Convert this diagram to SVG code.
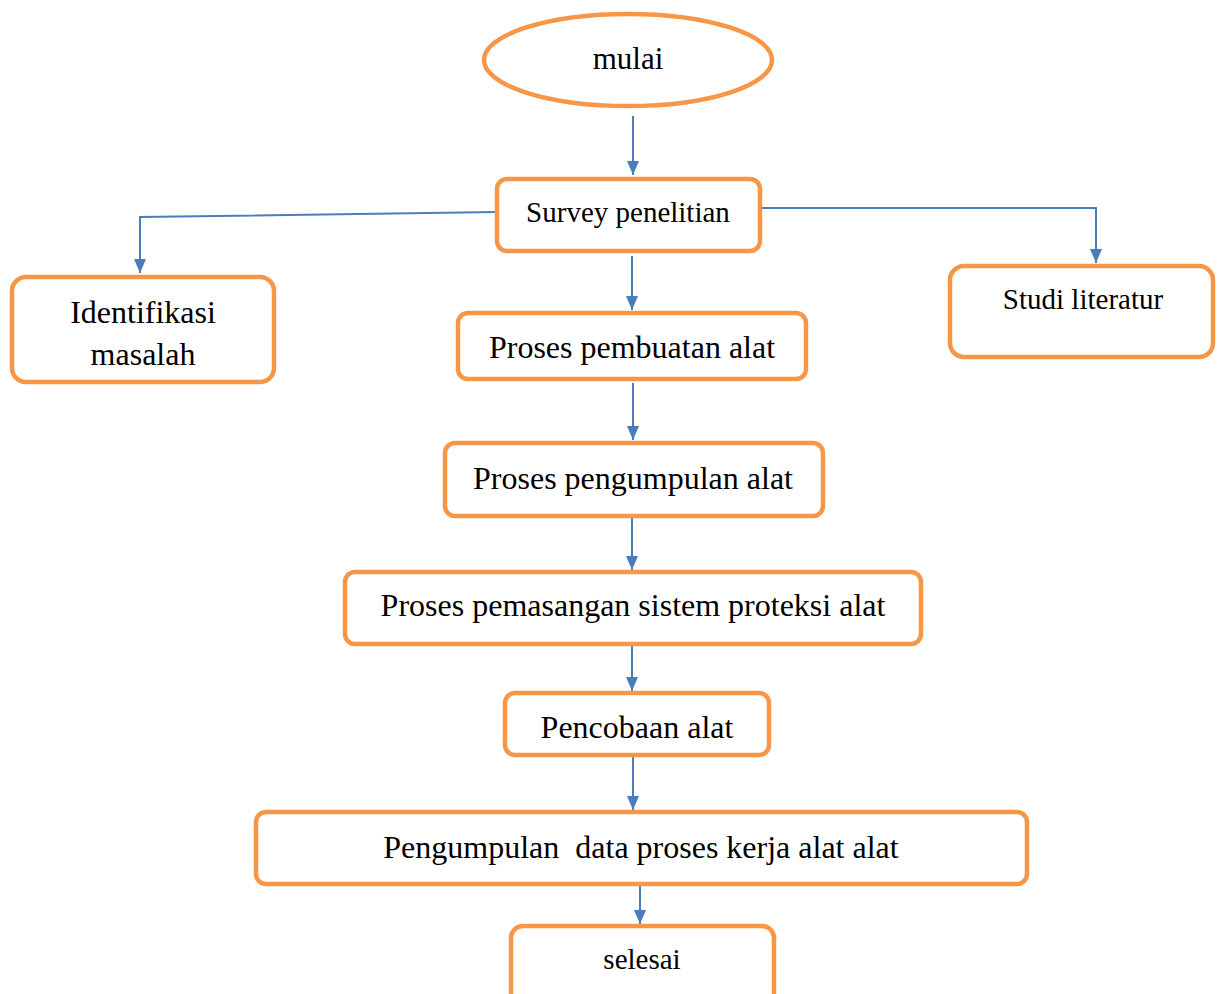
<svg xmlns="http://www.w3.org/2000/svg" width="1223" height="994" viewBox="0 0 1223 994">
<style>
.box{fill:#fff;stroke:#F79646;stroke-width:4.5}
.t{font-family:"Liberation Serif","Times New Roman",serif;fill:#000;text-anchor:middle;dominant-baseline:central}
.c{fill:none;stroke:#4A7EBB;stroke-width:2}
</style>
<defs>
<marker id="ah" viewBox="0 0 14 12" refX="14" refY="6" markerWidth="14" markerHeight="12" markerUnits="userSpaceOnUse" orient="auto">
<path d="M0,0 L14,6 L0,12 Z" fill="#4A7EBB"/>
</marker>
</defs>
<rect width="1223" height="994" fill="#fff"/>
<g id="connectors">
<line class="c" x1="633" y1="116" x2="633" y2="175" marker-end="url(#ah)"/>
<polyline class="c" points="497,212 140,217 140,273" marker-end="url(#ah)"/>
<polyline class="c" points="760,208 1096,208 1096,263" marker-end="url(#ah)"/>
<line class="c" x1="632" y1="256" x2="632" y2="310" marker-end="url(#ah)"/>
<line class="c" x1="633" y1="383" x2="633" y2="440" marker-end="url(#ah)"/>
<line class="c" x1="632" y1="516" x2="632" y2="570" marker-end="url(#ah)"/>
<line class="c" x1="632" y1="636" x2="632" y2="691" marker-end="url(#ah)"/>
<line class="c" x1="633" y1="757" x2="633" y2="810" marker-end="url(#ah)"/>
<line class="c" x1="640" y1="869" x2="640" y2="924" marker-end="url(#ah)"/>
</g>
<g id="mulai">
<ellipse class="box" cx="628" cy="60" rx="144" ry="46"/>
<text class="t" x="628" y="58" font-size="31">mulai</text>
</g>
<g id="survey">
<rect class="box" x="497" y="179" width="263" height="72" rx="10"/>
<text class="t" x="628" y="212" font-size="29">Survey penelitian</text>
</g>
<g id="identifikasi">
<rect class="box" x="12" y="277" width="262" height="105" rx="14"/>
<text class="t" x="143" y="312" font-size="32">Identifikasi</text>
<text class="t" x="143" y="354" font-size="32">masalah</text>
</g>
<g id="studi">
<rect class="box" x="950" y="266" width="263" height="91" rx="14"/>
<text class="t" x="1083" y="299" font-size="29">Studi literatur</text>
</g>
<g id="pembuatan">
<rect class="box" x="458" y="313" width="348" height="66" rx="10"/>
<text class="t" x="632" y="347" font-size="32">Proses pembuatan alat</text>
</g>
<g id="pengumpulan-alat">
<rect class="box" x="445" y="443" width="378" height="73" rx="10"/>
<text class="t" x="633" y="478" font-size="32">Proses pengumpulan alat</text>
</g>
<g id="pemasangan">
<rect class="box" x="345" y="572" width="576" height="72" rx="10"/>
<text class="t" x="633" y="605" font-size="32">Proses pemasangan sistem proteksi alat</text>
</g>
<g id="pencobaan">
<rect class="box" x="505" y="693" width="264" height="62" rx="10"/>
<text class="t" x="637" y="727" font-size="32">Pencobaan alat</text>
</g>
<g id="pengumpulan-data">
<rect class="box" x="256" y="812" width="771" height="72" rx="10"/>
<text class="t" x="641" y="847" font-size="32" xml:space="preserve">Pengumpulan  data proses kerja alat alat</text>
</g>
<g id="selesai">
<rect class="box" x="511" y="926" width="263" height="90" rx="12"/>
<text class="t" x="642" y="959" font-size="29">selesai</text>
</g>
</svg>
